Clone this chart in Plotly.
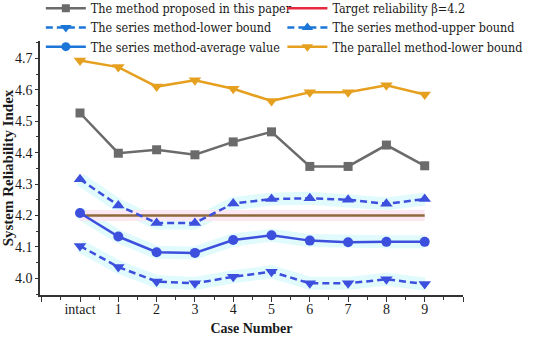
import plotly.graph_objects as go

cases = ["intact", "1", "2", "3", "4", "5", "6", "7", "8", "9"]
proposed = [4.526, 4.398, 4.409, 4.393, 4.434, 4.466, 4.356, 4.356, 4.424, 4.358]
target = [4.2] * 10
series_lower = [4.103, 4.036, 3.990, 3.984, 4.005, 4.021, 3.984, 3.984, 3.997, 3.982]
series_upper = [4.315, 4.232, 4.176, 4.176, 4.238, 4.252, 4.255, 4.250, 4.237, 4.252]
series_avg = [4.208, 4.133, 4.083, 4.081, 4.122, 4.137, 4.120, 4.115, 4.116, 4.116]
parallel_lower = [4.693, 4.672, 4.610, 4.630, 4.603, 4.564, 4.592, 4.592, 4.614, 4.585]

names = ["The method proposed in this paper", "Target reliability \u03b2=4.2",
         "The series method-lower bound", "The series method-upper bound",
         "The series method-average value", "The parallel method-lower bound"]

xs = list(range(len(cases)))
FONT = "Liberation Serif"
LFONT = "DejaVu Serif Condensed"
BLUE = "#3c4fdd"
LEG_BLUE = "#1c76d8"
DASH = "7px,4px"

fig = go.Figure()

# faint halos (as in the reference image)
for ys in [series_lower, series_upper, series_avg]:
    fig.add_trace(go.Scatter(x=xs, y=ys, mode="lines", showlegend=False, hoverinfo="skip",
                             line=dict(color="rgba(222,251,253,0.9)", width=13)))
fig.add_trace(go.Scatter(x=xs, y=target, mode="lines", showlegend=False, hoverinfo="skip",
                         line=dict(color="rgba(252,230,242,0.9)", width=11)))

# data traces
fig.add_trace(go.Scatter(x=xs, y=proposed, mode="lines+markers", showlegend=False,
                         line=dict(color="#6b6b6b", width=2.5),
                         marker=dict(symbol="square", size=9, color="#6b6b6b")))
fig.add_trace(go.Scatter(x=xs, y=target, mode="lines", showlegend=False,
                         line=dict(color="#8f6a3c", width=2.5)))
fig.add_trace(go.Scatter(x=xs, y=series_lower, mode="lines+markers", showlegend=False,
                         line=dict(color=BLUE, width=2.5, dash=DASH),
                         marker=dict(symbol="triangle-down", size=11, color=BLUE)))
fig.add_trace(go.Scatter(x=xs, y=series_upper, mode="lines+markers", showlegend=False,
                         line=dict(color=BLUE, width=2.5, dash=DASH),
                         marker=dict(symbol="triangle-up", size=11, color=BLUE)))
fig.add_trace(go.Scatter(x=xs, y=series_avg, mode="lines+markers", showlegend=False,
                         line=dict(color=BLUE, width=2.5),
                         marker=dict(symbol="circle", size=10, color=BLUE)))
fig.add_trace(go.Scatter(x=xs, y=parallel_lower, mode="lines+markers", showlegend=False,
                         line=dict(color="#e6a020", width=2.5),
                         marker=dict(symbol="triangle-down", size=11, color="#e6a020")))

# legend entries (two columns)
leg_styles = [
    dict(mode="lines+markers", line=dict(color="#6b6b6b", width=2.5), marker=dict(symbol="square", size=8, color="#6b6b6b")),
    dict(mode="lines", line=dict(color="#e8283c", width=2.5)),
    dict(mode="lines+markers", line=dict(color=LEG_BLUE, width=2.5, dash=DASH), marker=dict(symbol="triangle-down", size=10, color=LEG_BLUE)),
    dict(mode="lines+markers", line=dict(color=LEG_BLUE, width=2.5, dash=DASH), marker=dict(symbol="triangle-up", size=10, color=LEG_BLUE)),
    dict(mode="lines+markers", line=dict(color=LEG_BLUE, width=2.5), marker=dict(symbol="circle", size=9, color=LEG_BLUE)),
    dict(mode="lines+markers", line=dict(color="#e6a020", width=2.5), marker=dict(symbol="triangle-down", size=10, color="#e6a020")),
]
for i, (n, st) in enumerate(zip(names, leg_styles)):
    fig.add_trace(go.Scatter(x=[None], y=[None], name=n,
                             legend="legend" if i % 2 == 0 else "legend2", **st))

legend_common = dict(orientation="v", yanchor="top", xanchor="left", traceorder="normal",
                     font=dict(family=LFONT, size=12.5, color="#1a1a1a"),
                     bgcolor="rgba(0,0,0,0)", itemwidth=40, tracegroupgap=0)

fig.update_layout(
    width=550, height=338,
    margin=dict(l=40, r=87, t=41, b=43, autoexpand=False),
    paper_bgcolor="white", plot_bgcolor="white",
    font=dict(family=FONT, size=14, color="#1a1a1a"),
    legend=dict(x=0.002, y=1.187, **legend_common),
    legend2=dict(x=0.573, y=1.187, **legend_common),
    xaxis=dict(range=[-1.045, 10], tickmode="array", tickvals=list(range(-1, 11)),
               ticktext=[""] + cases + [""], showgrid=False, zeroline=False,
               showline=True, linecolor="#333", linewidth=1.5,
               ticks="outside", ticklen=5, tickwidth=1.2, tickcolor="#333",
               minor=dict(dtick=0.5, tick0=-1, ticks="outside", ticklen=3, tickwidth=1, tickcolor="#333"),
               tickfont=dict(family=FONT, size=14), automargin=False, ticklabelstandoff=-5,
               title=dict(text="<b>Case Number</b>", font=dict(family=FONT, size=14), standoff=8)),
    yaxis=dict(range=[3.947, 4.755], tickmode="array",
               tickvals=[4.0, 4.1, 4.2, 4.3, 4.4, 4.5, 4.6, 4.7],
               ticktext=["4.0", "4.1", "4.2", "4.3", "4.4", "4.5", "4.6", "4.7"],
               showgrid=False, zeroline=False,
               showline=True, linecolor="#333", linewidth=1.5,
               ticks="outside", ticklen=3, tickwidth=1.2, tickcolor="#333",
               minor=dict(tickvals=[3.95, 4.05, 4.15, 4.25, 4.35, 4.45, 4.55, 4.65, 4.75], ticks="outside", ticklen=2, tickwidth=1, tickcolor="#333"),
               tickfont=dict(family=FONT, size=14), automargin=False,
               title=dict(text="<b>System Reliability Index</b>", font=dict(family=FONT, size=15), standoff=0)),
)

fig.write_html("out.html", config={"displayModeBar": False},
               post_script="document.body.style.margin='0';")
